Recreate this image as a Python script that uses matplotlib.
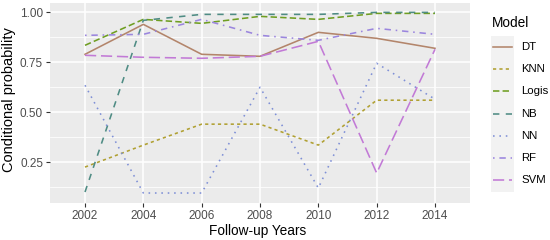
import matplotlib
matplotlib.use("Agg")
import matplotlib.pyplot as plt
from matplotlib.ticker import FixedLocator
from matplotlib.lines import Line2D

plt.rcParams['font.family'] = ['Liberation Sans', 'DejaVu Sans']

years = [2002, 2004, 2006, 2008, 2010, 2012, 2014]
models = ["DT", "KNN", "Logis", "NB", "NN", "RF", "SVM"]
dt = [0.79, 0.94, 0.79, 0.78, 0.90, 0.87, 0.82]
knn = [0.225, 0.335, 0.44, 0.44, 0.335, 0.56, 0.56]
logis = [0.835, 0.965, 0.945, 0.98, 0.965, 0.995, 0.995]
nb = [0.10, 0.96, 0.99, 0.99, 0.99, 1.0, 1.0]
nn = [0.635, 0.095, 0.095, 0.625, 0.12, 0.745, 0.565]
rf = [0.885, 0.89, 0.965, 0.885, 0.86, 0.92, 0.89]
svm = [0.785, 0.775, 0.77, 0.78, 0.855, 0.195, 0.815]
series = [dt, knn, logis, nb, nn, rf, svm]

colors = ["#b3856b", "#b0a032", "#6f9e22", "#4f8c84", "#7e8fd6", "#9b86de", "#c27ad6"]
styles = ["-", (0, (2, 2)), (0, (4, 2)), (0, (4, 4)), (0, (1, 3)), (0, (1, 3, 4, 3)), (0, (7, 3))]
LW = 1.15

W, H = 550, 240
fig = plt.figure(figsize=(5.5, 2.4), dpi=100)
ax = fig.add_axes([50/W, 37/H, 420/W, 200/H])
ax.set_facecolor("#EBEBEB")
for s in ax.spines.values():
    s.set_visible(False)

ax.set_xlim(2000.8, 2015.2)
ax.set_ylim(0.045, 1.047)
ax.xaxis.set_major_locator(FixedLocator(years))
ax.yaxis.set_major_locator(FixedLocator([0.25, 0.5, 0.75, 1.0]))
ax.yaxis.set_minor_locator(FixedLocator([0.125, 0.375, 0.625, 0.875]))
ax.set_yticklabels(["0.25", "0.50", "0.75", "1.00"])
ax.grid(which="major", color="white", linewidth=1.1)
ax.grid(which="minor", axis="y", color="white", linewidth=0.55)
ax.set_axisbelow(True)
ax.tick_params(which="major", length=3, color="#333333", labelcolor="#4D4D4D", labelsize=8.5, pad=2)
ax.tick_params(which="minor", length=0)

lines = []
for name, vals, c, ls in zip(models, series, colors, styles):
    l, = ax.plot(years, vals, color=c, linestyle=ls, linewidth=LW, label=name)
    lines.append(l)

ax.set_xlabel("Follow-up Years", fontsize=9.8)
ax.xaxis.set_label_coords(0.495, -(231 - 203) / 200, transform=ax.transAxes)
ax.xaxis.label.set_va("center")
ax.set_ylabel("Conditional probability", fontsize=10.5)
ax.yaxis.set_label_coords(-(50 - 9.5) / 420, (203 - 99.5) / 200, transform=ax.transAxes)
ax.yaxis.label.set_va("center")

# legend (drawn in figure pixel coordinates)
fig.patches.append(plt.Rectangle((491/W, 1 - 192/H), 23/W, 156/H,
                                 transform=fig.transFigure, facecolor="#F2F2F2",
                                 edgecolor="none", zorder=0))
fig.text(492/W, 1 - 23/H, "Model", fontsize=9.8, va="center", ha="left")
for i, (name, c, ls) in enumerate(zip(models, colors, styles)):
    y = 1 - (47 + i * 22.2) / H
    fig.add_artist(Line2D([493/W, 512/W], [y, y], transform=fig.transFigure,
                          color=c, linestyle=ls, linewidth=LW))
    fig.text(521/W, y, name, fontsize=8.2, va="center", ha="left")

fig.savefig("out.png", dpi=100)
